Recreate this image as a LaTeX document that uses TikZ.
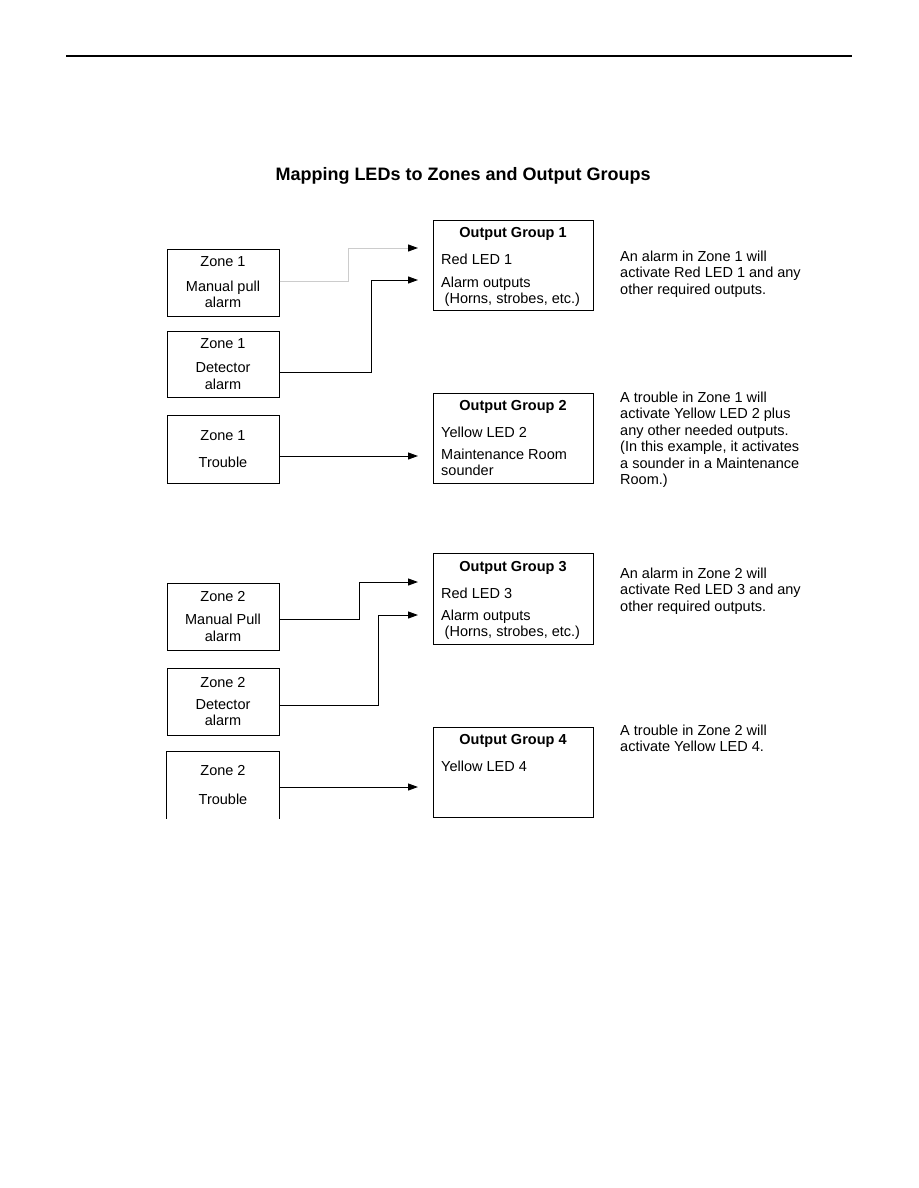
\documentclass[tikz,border=0pt]{standalone}
\usepackage{fontspec}
\setmainfont{Liberation Sans}
\usetikzlibrary{positioning,arrows.meta}

\begin{document}
\begin{tikzpicture}[
    x=1pt, y=-1pt,
    font=\fontsize{14.5}{16.5}\selectfont,
    zonebox/.style={draw, line width=1pt, minimum width=112pt, inner sep=0pt, align=center},
    groupbox/.style={draw, line width=1pt, minimum width=160pt, minimum height=90pt, inner sep=0pt},
    grouptitle/.style={anchor=base, inner sep=0pt, font=\fontsize{14.5}{16.5}\selectfont\bfseries},
    groupbody/.style={anchor=north west, inner sep=0pt, align=left},
    note/.style={anchor=north west, inner sep=0pt, align=left},
    arr/.style={-{Triangle[length=10pt,width=7pt,color=black]}, line width=1pt}
]
\useasboundingbox (0,0) rectangle (918,1188);

\draw[line width=1.5pt] (66,56) -- (852,56);
\node[anchor=base, inner sep=0pt, font=\fontsize{18}{21}\selectfont\bfseries] (title) at (463,180) {Mapping LEDs to Zones and Output Groups};

% zone 1
\node[zonebox, minimum height=67pt] (z1a) at (223,282.5) {Zone 1\\[8pt]Manual pull\\alarm};
\node[zonebox, minimum height=66pt] (z1b) at (223,364) {Zone 1\\[7.5pt]Detector\\alarm};
\node[zonebox, minimum height=68pt] (z1c) at (223,449) {Zone 1\\[11pt]Trouble};

% zone 2
\node[zonebox, minimum height=67pt] (z2a) at (223,616.5) {Zone 2\\[6.5pt]Manual Pull\\alarm};
\node[zonebox, minimum height=67pt] (z2b) at (223,701.5) {Zone 2\\[5.5pt]Detector\\alarm};
\node[zonebox, draw=none, minimum height=66pt] (z2c) at (223,785) {Zone 2\\[12.5pt]Trouble};
\draw[line width=1pt] (z2c.south west) |- (z2c.north east) -- (z2c.south east);

% output groups
\node[groupbox] (og1) at (513,265) {};
\node[grouptitle] (og1t) at (513,237) {Output Group 1};
\node[groupbody] (og1b) at (441,253.6) {Red LED 1\\[6.5pt]Alarm outputs\\\hspace*{3.5pt}(Horns, strobes, etc.)};

\node[groupbox] (og2) at (513,438) {};
\node[grouptitle] (og2t) at (513,410) {Output Group 2};
\node[groupbody] (og2b) at (441,426.6) {Yellow LED 2\\[5.5pt]Maintenance Room\\sounder};

\node[groupbox, minimum height=91pt] (og3) at (513,598.5) {};
\node[grouptitle] (og3t) at (513,571) {Output Group 3};
\node[groupbody] (og3b) at (441,587.6) {Red LED 3\\[5.5pt]Alarm outputs\\\hspace*{3.5pt}(Horns, strobes, etc.)};

\node[groupbox] (og4) at (513,772) {};
\node[grouptitle] (og4t) at (513,744) {Output Group 4};
\node[groupbody] (og4b) at (441,760.6) {Yellow LED 4};

% notes
\node[note] (n1) at (620,250.6) {An alarm in Zone 1 will\\activate Red LED 1 and any\\other required outputs.};
\node[note] (n2) at (620,391.6) {A trouble in Zone 1 will\\activate Yellow LED 2 plus\\any other needed outputs.\\(In this example, it activates\\a sounder in a Maintenance\\Room.)};
\node[note] (n3) at (620,567.6) {An alarm in Zone 2 will\\activate Red LED 3 and any\\other required outputs.};
\node[note] (n4) at (620,724.6) {A trouble in Zone 2 will\\activate Yellow LED 4.};

% arrow ends
\coordinate (in1a) at (418,248);
\coordinate (in1b) at (418,280);
\coordinate (in1c) at (418,456);
\coordinate (in2a) at (418,582);
\coordinate (in2b) at (418,615);
\coordinate (in2c) at (418,787);

\draw[arr, draw=gray!40] ([yshift=1.5pt]z1a.east) -- ++(69,0) |- (in1a);
\draw[arr] ([yshift=-8pt]z1b.east) -- ++(92,0) |- (in1b);
\draw[arr] ([yshift=-7pt]z1c.east) -- (in1c);
\draw[arr] ([yshift=-2.5pt]z2a.east) -- ++(80,0) |- (in2a);
\draw[arr] ([yshift=-3.5pt]z2b.east) -- ++(99,0) |- (in2b);
\draw[arr] ([yshift=-2pt]z2c.east) -- (in2c);
\end{tikzpicture}
\end{document}
